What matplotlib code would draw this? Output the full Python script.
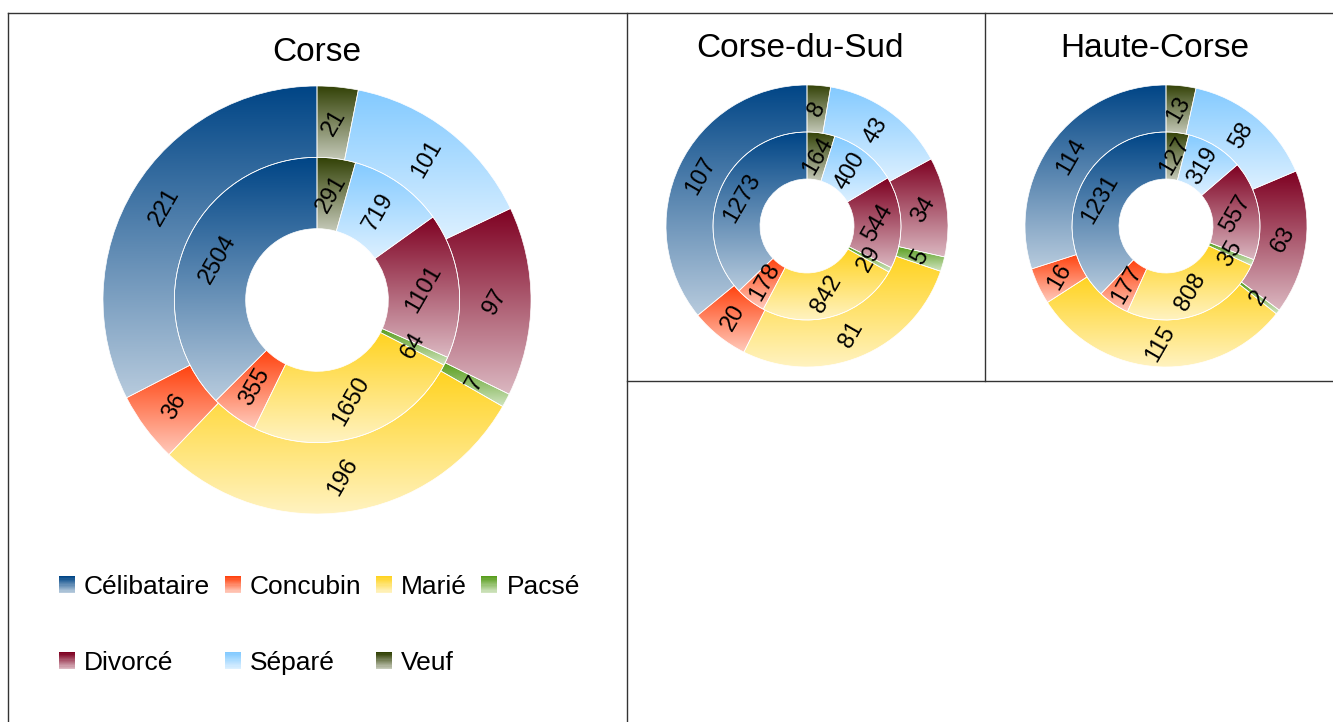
"""Two-ring donut charts of marital status for Corse and its two departments."""

import matplotlib
matplotlib.use("Agg")
import matplotlib.pyplot as plt
import numpy as np
from matplotlib.legend_handler import HandlerBase
from matplotlib.lines import Line2D
from matplotlib.patches import Patch, Rectangle

plt.rcParams["font.family"] = ["Liberation Sans", "DejaVu Sans"]

categories = ["Célibataire", "Concubin", "Marié", "Pacsé", "Divorcé", "Séparé", "Veuf"]
colors = ["#004586", "#ff420e", "#ffd320", "#579d1c", "#7e0021", "#83caff", "#314004"]

corse_inner = [2504, 355, 1650, 64, 1101, 719, 291]
corse_outer = [221, 36, 196, 7, 97, 101, 21]
sud_inner = [1273, 178, 842, 29, 544, 400, 164]
sud_outer = [107, 20, 81, 5, 34, 43, 8]
haute_inner = [1231, 177, 808, 35, 557, 319, 127]
haute_outer = [114, 16, 115, 2, 63, 58, 13]

W, H = 1333, 722
LIGHT = 0.72        # share of white at the bottom of each gradient
LABEL_ROT = 60
LABEL_SIZE = 17


def light(c, f=LIGHT):
    rgb = np.array(matplotlib.colors.to_rgb(c))
    return rgb * (1 - f) + f


def gradient(c, n=256):
    top = np.array(matplotlib.colors.to_rgb(c))
    bot = light(c)
    t = np.linspace(0, 1, n)[:, None]
    return (top * (1 - t) + bot * t)[:, None, :]


def px_axes(fig, cx, cy, r):
    return fig.add_axes([(cx - r) / W, (H - cy - r) / H, 2 * r / W, 2 * r / H])


def ring(ax, values, radius):
    wedges, _ = ax.pie(values, radius=radius, startangle=90, counterclock=True,
                       colors=colors,
                       wedgeprops=dict(width=1 / 3, edgecolor="white", linewidth=0.5))
    for w, v, c in zip(wedges, values, colors):
        bb = w.get_path().get_extents()
        img = ax.imshow(gradient(c), extent=(bb.x0, bb.x1, bb.y0, bb.y1),
                        interpolation="bilinear", aspect="auto", zorder=0.5)
        img.set_clip_path(w)
        w.set_facecolor("none")
        w.set_zorder(1)
        theta = np.deg2rad((w.theta1 + w.theta2) / 2)
        r = w.r - w.width / 2
        ax.text(r * np.cos(theta), r * np.sin(theta), str(v), rotation=LABEL_ROT,
                rotation_mode="anchor", ha="center", va="center",
                fontsize=LABEL_SIZE, color="black", zorder=3)


def donut(fig, cx, cy, r, inner, outer):
    ax = px_axes(fig, cx, cy, r)
    ring(ax, outer, 1.0)
    ring(ax, inner, 2 / 3)
    ax.set_xlim(-1, 1)
    ax.set_ylim(-1, 1)
    ax.set_aspect("equal")
    ax.set_axis_off()
    return ax


class GradientHandler(HandlerBase):
    def create_artists(self, legend, orig_handle, xdescent, ydescent,
                       width, height, fontsize, trans):
        c = orig_handle.get_facecolor()
        top = np.array(c[:3])
        bot = light(c)
        n = 14
        arts = []
        for i in range(n):
            t = i / (n - 1)
            arts.append(Rectangle((-xdescent, -ydescent + height * (1 - (i + 1) / n)),
                                  width, height / n + 0.2,
                                  facecolor=top * (1 - t) + bot * t,
                                  edgecolor="none", transform=trans))
        return arts


fig = plt.figure(figsize=(W / 100, H / 100), dpi=100)

donut(fig, 317, 300, 214, corse_inner, corse_outer)
donut(fig, 807, 226, 141, sud_inner, sud_outer)
donut(fig, 1166, 226, 141, haute_inner, haute_outer)

fig.text(317 / W, 1 - 61 / H, "Corse", ha="center", va="baseline", fontsize=24)
fig.text(800 / W, 1 - 57 / H, "Corse-du-Sud", ha="center", va="baseline", fontsize=24)
fig.text(1155 / W, 1 - 57 / H, "Haute-Corse", ha="center", va="baseline", fontsize=24)

# panel borders
border = dict(color="#333333", linewidth=1.0, transform=fig.transFigure)
segs = [((8, 12.5), (1333, 12.5)), ((8, 12.5), (8, 722)), ((627, 12.5), (627, 722)),
        ((985, 12.5), (985, 381)), ((627, 381), (1333, 381))]
for (x0, y0), (x1, y1) in segs:
    fig.add_artist(Line2D([x0 / W, x1 / W], [1 - y0 / H, 1 - y1 / H], **border))

# legend: matplotlib fills column-major, so reorder to get two rows
handles = [Patch(facecolor=c, label=n) for n, c in zip(categories, colors)]
order = [0, 4, 1, 5, 2, 6, 3]
fig.legend([handles[i] for i in order], [categories[i] for i in order],
           ncol=4, loc="upper left", bbox_to_anchor=(59 / W, 1 - 575 / H),
           frameon=False, fontsize=19, borderpad=0, borderaxespad=0,
           handlelength=0.6, handleheight=0.6, handletextpad=0.35,
           columnspacing=0.55, labelspacing=1.98,
           handler_map={Patch: GradientHandler()})

fig.savefig("out.png", dpi=100)
